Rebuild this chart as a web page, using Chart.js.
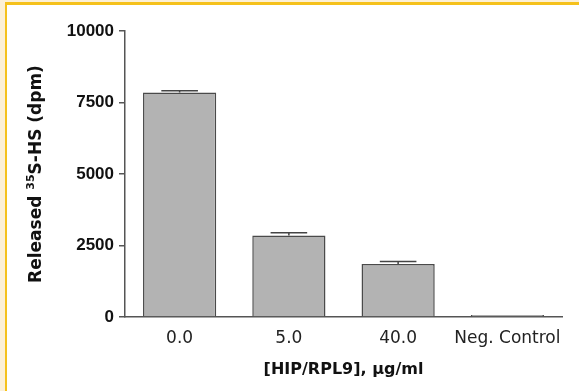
<!DOCTYPE html>
<html>
<head>
<meta charset="utf-8">
<script src="https://cdn.jsdelivr.net/npm/chart.js@4.4.1/dist/chart.umd.min.js"></script>
<style>
  html, body { margin: 0; padding: 0; background: #fcf0d6; }
  #page { position: relative; width: 579px; height: 391px; overflow: hidden; }
  #frame { position: absolute; left: 5px; top: 2px; right: 0; bottom: 0;
           background: #fff; border-left: 2px solid #f5c11c; border-top: 3px solid #f5c11c; }
  #chart { position: absolute; left: 0; top: 0; }
</style>
</head>
<body>
<div id="page">
  <div id="frame"></div>
  <canvas id="chart" width="579" height="391"></canvas>
</div>
<script>
const categories = ["0.0", "5.0", "40.0", "Neg. Control"];
const released = [7850, 2850, 1850, 70];
const sem = [60, 100, 90, 0];
const yTicks = [0, 2500, 5000, 7500, 10000];

// error bars drawn upward only, from the bar top
const errorBars = {
    id: "errorBars",
    afterDatasetsDraw(chart) {
        const ctx = chart.ctx;
        const yScale = chart.scales.y;
        const meta = chart.getDatasetMeta(0);
        ctx.save();
        ctx.strokeStyle = "#444";
        ctx.lineWidth = 1.5;
        meta.data.forEach((bar, i) => {
            if (!sem[i]) return;
            const top = yScale.getPixelForValue(released[i] + sem[i]);
            const base = yScale.getPixelForValue(released[i]);
            const half = bar.width / 4;
            ctx.beginPath();
            ctx.moveTo(bar.x, base);
            ctx.lineTo(bar.x, top);
            ctx.moveTo(bar.x - half, top);
            ctx.lineTo(bar.x + half, top);
            ctx.stroke();
        });
        ctx.restore();
    }
};

// axis titles (y one has a superscript)
const axisTitles = {
    id: "axisTitles",
    afterDraw(chart) {
        const ctx = chart.ctx;
        const area = chart.chartArea;
        ctx.save();
        ctx.fillStyle = "#111";

        const big = "bold 17px 'DejaVu Sans'";
        const small = "bold 11px 'DejaVu Sans'";
        const parts = [["Released ", big, 0], ["35", small, -7], ["S-HS (dpm)", big, 0]];
        let total = 0;
        parts.forEach(p => { ctx.font = p[1]; total += ctx.measureText(p[0]).width; });
        ctx.translate(41, (area.top + area.bottom) / 2);
        ctx.rotate(-Math.PI / 2);
        ctx.textBaseline = "alphabetic";
        ctx.textAlign = "left";
        let x = -total / 2;
        parts.forEach(p => {
            ctx.font = p[1];
            ctx.fillText(p[0], x, p[2]);
            x += ctx.measureText(p[0]).width;
        });
        ctx.restore();

        ctx.save();
        ctx.fillStyle = "#111";
        ctx.font = "bold 16px 'DejaVu Sans'";
        ctx.textAlign = "center";
        ctx.textBaseline = "alphabetic";
        ctx.fillText("[HIP/RPL9], \u00b5g/ml", (area.left + area.right) / 2, 374);
        ctx.restore();
    }
};

new Chart(document.getElementById("chart"), {
    type: "bar",
    data: {
        labels: categories,
        datasets: [{
            data: released,
            backgroundColor: "#b3b3b3",
            borderColor: "#4a4a4a",
            borderWidth: 1.5,
            barPercentage: 0.67,
            categoryPercentage: 1.0
        }]
    },
    options: {
        responsive: false,
        animation: false,
        layout: { padding: { top: 31, right: 17, left: 0, bottom: 0 } },
        plugins: {
            legend: { display: false },
            tooltip: { enabled: false }
        },
        scales: {
            x: {
                grid: { display: false, drawTicks: false },
                border: { display: true, color: "#555", width: 1.5 },
                ticks: {
                    color: "#222",
                    padding: 11,
                    font: { family: "'DejaVu Sans'", size: 17 },
                    maxRotation: 0
                },
                afterFit: (scale) => { scale.height = 74; }
            },
            y: {
                min: 0,
                max: 10000,
                afterBuildTicks: (scale) => { scale.ticks = yTicks.map(v => ({ value: v })); },
                grid: { drawOnChartArea: false, drawTicks: true, tickLength: 6, color: "#555", lineWidth: 1.5 },
                border: { display: true, color: "#555", width: 1.5 },
                ticks: {
                    color: "#111",
                    padding: 5,
                    font: { family: "'Liberation Sans', Arial", size: 17, weight: "bold" },
                    callback: (v) => String(v)
                },
                afterFit: (scale) => { scale.width = 125; }
            }
        }
    },
    plugins: [errorBars, axisTitles]
});
</script>
</body>
</html>
